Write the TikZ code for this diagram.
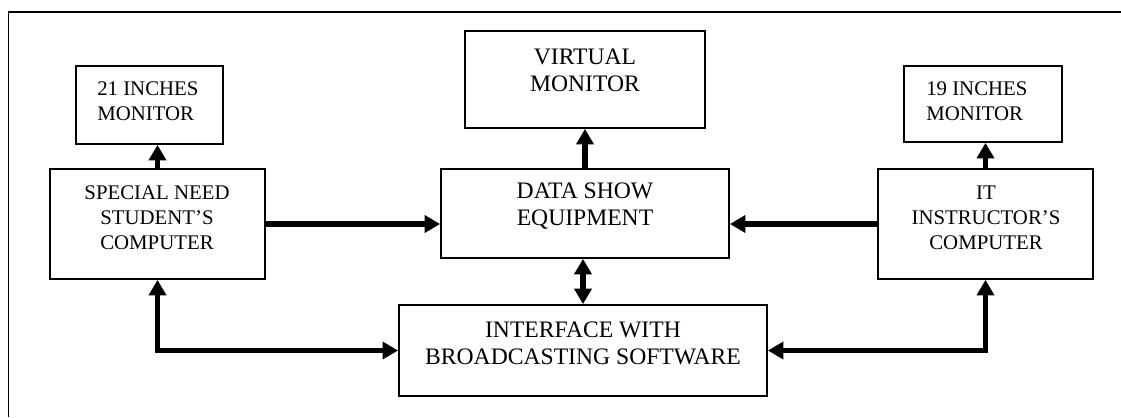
\documentclass[tikz,border=0pt]{standalone}
\usepackage{fontspec}
\setmainfont{Liberation Serif}
\usetikzlibrary{arrows.meta,positioning,calc}

\begin{document}
\begin{tikzpicture}[
    x=0.025cm, y=-0.025cm,
    box/.style={rectangle, draw, line width=1.2pt, inner sep=0pt},
    sidetext/.style={font=\fontsize{14.8}{17.7}\selectfont, align=center, inner sep=0pt},
    midtext/.style={font=\fontsize{16.8}{19.1}\selectfont, align=center, inner sep=0pt},
    link/.style={line width=3.7pt, -{Triangle[length=11pt,width=12pt]}},
    twoway/.style={line width=3.7pt, {Triangle[length=11pt,width=12pt]}-{Triangle[length=11pt,width=12pt]}}
]
\useasboundingbox (0,0) rectangle (1121,417);

% Frame (only top and left edges show)
\draw[line width=1.4pt] (8.5,417) -- (8.5,12) -- (1121,12);

% Monitors
\node[box, minimum width=3.675cm, minimum height=1.95cm] (mon21) at (149.5,105) {};
\node[box, minimum width=6cm, minimum height=2.425cm] (virt) at (585,79.5) {};
\node[box, minimum width=3.95cm, minimum height=1.9cm] (mon19) at (983,104) {};

% Computers and data show
\node[box, minimum width=5.375cm, minimum height=2.75cm] (spec) at (157.5,224) {};
\node[box, minimum width=7.2cm, minimum height=2.225cm] (ds) at (585,213.5) {};
\node[box, minimum width=5.375cm, minimum height=2.75cm] (it) at (985.5,224) {};

% Interface
\node[box, minimum width=9.2cm, minimum height=2.275cm] (ifc) at (583,350.5) {};

% Texts
\node[sidetext, anchor=west, align=left] (mon21txt) at (97,101.5) {21 INCHES\\MONITOR};
\node[midtext] (virttxt) at (585,70) {VIRTUAL\\MONITOR};
\node[sidetext, anchor=west, align=left] (mon19txt) at (926,101.5) {19 INCHES\\MONITOR};
\node[sidetext] (spectxt) at (157,217.5) {SPECIAL NEED\\STUDENT’S\\COMPUTER};
\node[midtext] (dstxt) at (585,206.5) {DATA SHOW\\EQUIPMENT};
\node[sidetext] (ittxt) at (986,217.5) {IT\\INSTRUCTOR’S\\COMPUTER};
\node[midtext] (ifctxt) at (583,343.5) {INTERFACE WITH\\BROADCASTING SOFTWARE};

% Connections
\draw[link] (spec.north) -- (mon21.south -| spec.north);
\draw[link] (ds.north) -- (virt.south);
\draw[link] (it.north) -- (mon19.south -| it.north);
\draw[link] (spec.east) -- (spec.east -| ds.west);
\draw[link] (it.west) -- (it.west -| ds.east);
\draw[twoway] (ds.south -| ifc.north) -- (ifc.north);
\draw[twoway] (spec.south) |- (ifc.west);
\draw[twoway] (it.south) |- (ifc.east);

\end{tikzpicture}
\end{document}
